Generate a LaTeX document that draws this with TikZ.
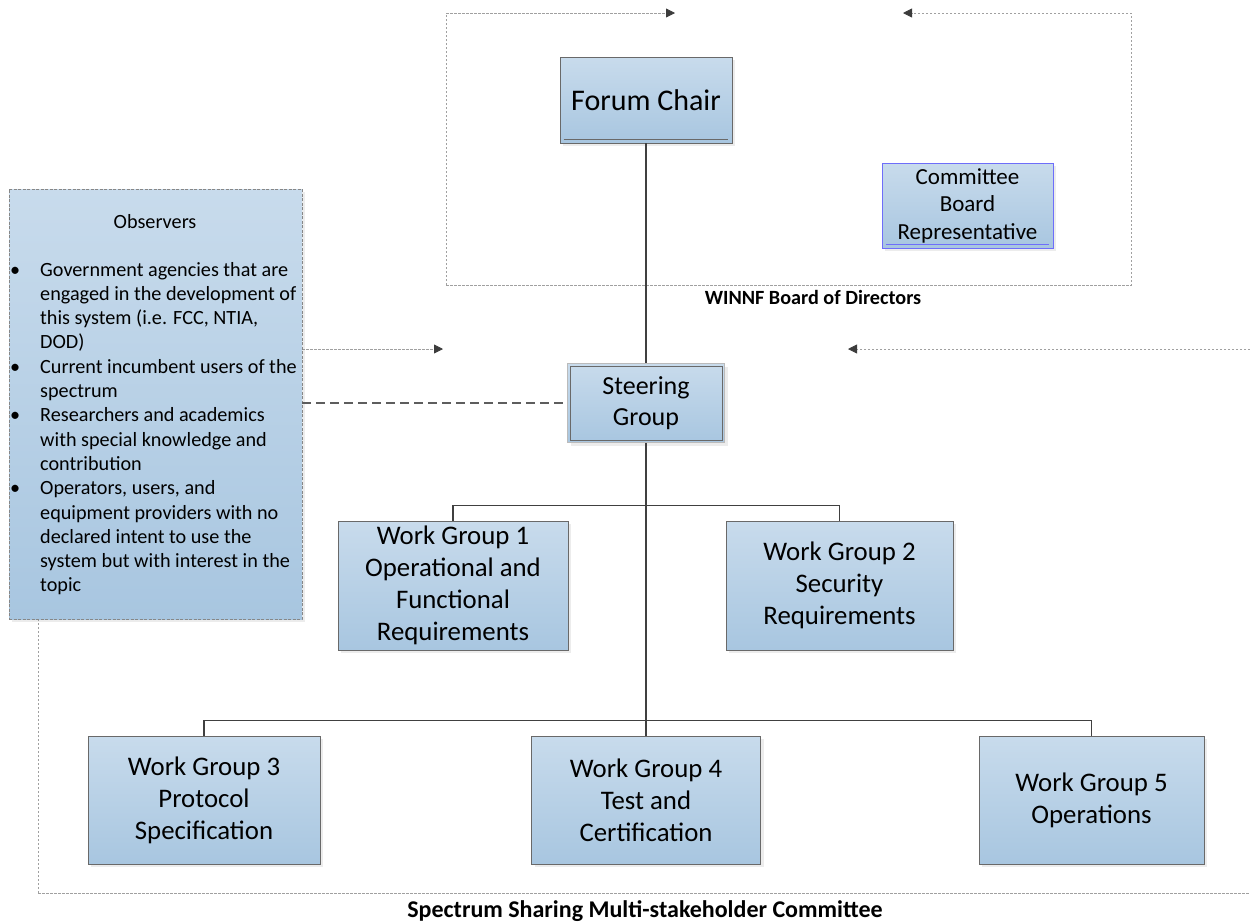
\documentclass[tikz,border=0pt]{standalone}
\usepackage{fontspec}
\setmainfont{Carlito}
\usetikzlibrary{arrows.meta,shadows}
\definecolor{boxtop}{RGB}{200,219,236}
\definecolor{boxbot}{RGB}{168,198,224}
\definecolor{boxline}{RGB}{105,105,105}
\definecolor{bluerim}{RGB}{110,110,250}
\definecolor{framecol}{RGB}{160,160,160}
\definecolor{conncol}{RGB}{64,64,64}
\definecolor{tipcol}{RGB}{60,60,60}
\newcommand\wgfont{\fontsize{26.8}{32}\selectfont}
\newcommand\obsfont{\fontsize{20.2}{24.3}\selectfont}
\begin{document}
\begin{tikzpicture}[x=1pt,y=-1pt,
  orgbox/.style={draw=boxline, line width=0.9pt, top color=boxtop, bottom color=boxbot,
    align=center, inner sep=2pt,
    drop shadow={opacity=0.15, shadow xshift=3pt, shadow yshift=-3pt}},
  wgbox/.style={orgbox, minimum width=229pt, minimum height=128pt, font=\wgfont},
  conn/.style={draw=conncol, line width=1.3pt},
  dashconn/.style={draw=conncol!85, line width=1.6pt, dash pattern=on 9pt off 5pt},
  frameln/.style={draw=framecol, line width=0.8pt, dash pattern=on 2.5pt off 1.5pt,
    -{Triangle[length=9pt,width=9pt,color=tipcol,fill=tipcol]}},
  frameplain/.style={draw=framecol, line width=0.8pt, dash pattern=on 2.5pt off 1.5pt},
  innerln/.style={draw=boxline, line width=0.9pt},
  lab/.style={inner sep=0pt}
]
\useasboundingbox (0,0) rectangle (1250,922);

% ---------- frames ----------
\coordinate (wa) at (446,13);
\coordinate (wb) at (446,285);
\coordinate (wc) at (1131,285);
\coordinate (wd) at (1131,13);
\coordinate (wtipl) at (675,13);
\coordinate (wtipr) at (903,13);
\draw[frameln] (wb) -- (wa) -- (wtipl);
\draw[frameln] (wb) -- (wc) -- (wd) -- (wtipr);

\coordinate (oa) at (38,349);
\coordinate (ob) at (38,893);
\coordinate (oc) at (1250,893);
\coordinate (od) at (1250,349);
\coordinate (otipl) at (443,349);
\coordinate (otipr) at (848,349);
\draw[frameln] (ob) -- (oa) -- (otipl);
\draw[frameplain] (ob) -- (oc);
\draw[frameln] (od) -- (otipr);

% ---------- boxes ----------
\node[orgbox, minimum width=172pt, minimum height=86pt,
      font=\fontsize{30}{36}\selectfont] (fc) at (646,100) {Forum Chair};
\draw[innerln] ([shift={(4,-4)}]fc.south west) -- ([shift={(-4,-4)}]fc.south east);

\node[orgbox, draw=bluerim, minimum width=171pt, minimum height=85pt,
      font=\fontsize{23}{27.5}\selectfont] (cbr) at (967.5,205.5)
      {Committee\\Board\\Representative};
\draw[innerln, draw=bluerim] ([shift={(4,-4)}]cbr.south west) -- ([shift={(-4,-4)}]cbr.south east);

\node[orgbox, draw=boxline!45, minimum width=157pt, minimum height=79pt,
      font=\fontsize{26}{31}\selectfont] (sg) at (646,403) {Steering\\Group};
\draw[innerln] ([shift={(3,-3)}]sg.south west) rectangle ([shift={(-3,3)}]sg.north east);

\node[orgbox, draw=boxline!80, dash pattern=on 3pt off 1.5pt, line width=0.8pt,
      minimum width=293pt, minimum height=430pt] (obs) at (155.5,404) {};
\node[font=\obsfont, inner sep=0pt] (obstitle) at (155,222) {Observers};
\node[anchor=base west, inner sep=0pt, font=\obsfont] (obslist) at (10,276) {%
\begin{tabular}[t]{@{}p{30pt}@{}l@{}}
\textbullet & Government agencies that are\\
 & engaged in the development of\\
 & this system (i.e. FCC, NTIA,\\
 & DOD)\\
\textbullet & Current incumbent users of the\\
 & spectrum\\
\textbullet & Researchers and academics\\
 & with special knowledge and\\
 & contribution\\
\textbullet & Operators, users, and\\
 & equipment providers with no\\
 & declared intent to use the\\
 & system but with interest in the\\
 & topic
\end{tabular}};

\node[wgbox, minimum width=230pt, minimum height=129pt] (wg1) at (453,585.5)
  {Work Group 1\\Operational and\\Functional\\Requirements};
\node[wgbox, minimum width=227pt, minimum height=129pt] (wg2) at (839.5,585.5)
  {Work Group 2\\Security\\Requirements};
\node[wgbox, minimum width=232pt] (wg3) at (204,800)
  {Work Group 3\\Protocol\\Specification};
\node[wgbox] (wg4) at (646,800)
  {Work Group 4\\Test and\\Certification};
\node[wgbox, minimum width=225pt] (wg5) at (1091.5,800)
  {Work Group 5\\Operations};

% ---------- connectors ----------
\draw[conn] (fc.south) -- (sg.north);
\draw[conn] (sg.south) -- (wg4.north);
\draw[conn] (wg1.north) -- ++(0,-15) -| (wg2.north);
\draw[conn] (wg3.north) -- ++(0,-15) -| (wg5.north);
\draw[dashconn] (obs.east |- sg.west) -- (sg.west);

% ---------- labels ----------
\node[lab, font=\bfseries\fontsize{20.2}{24}\selectfont] (winnf) at (813,297) {WINNF Board of Directors};
\node[lab, font=\bfseries\fontsize{24}{28}\selectfont] (ssmc) at (645,911) {Spectrum Sharing Multi-stakeholder Committee};
\end{tikzpicture}
\end{document}
